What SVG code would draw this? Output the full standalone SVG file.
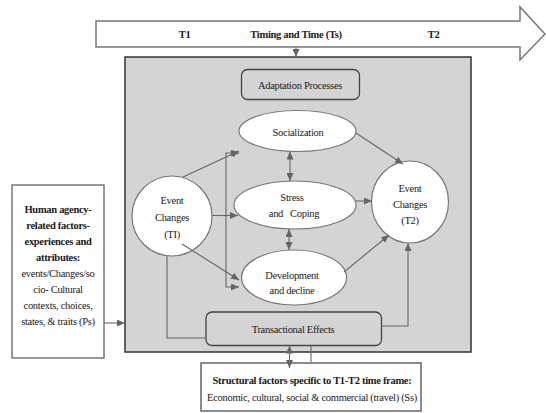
<svg xmlns="http://www.w3.org/2000/svg" width="546" height="413" viewBox="0 0 546 413">
<defs>
<marker id="ah" markerUnits="userSpaceOnUse" markerWidth="8" markerHeight="7" refX="8" refY="3.5" orient="auto-start-reverse">
<path d="M0,0 L8,3.5 L0,7 z" fill="#666"/>
</marker>
</defs>
<style>
text{font-family:"Times New Roman","Liberation Serif",Tinos,serif;font-size:10.5px;fill:#1a1a1a;letter-spacing:-0.3px;text-anchor:middle}
.b{font-weight:bold}
.ell{fill:#fff;stroke:#777;stroke-width:1.2}
.rbox{fill:none;stroke:#444;stroke-width:1.3}
.ln{fill:none;stroke:#666;stroke-width:1.1}
.arr{marker-end:url(#ah)}
.dbl{marker-start:url(#ah);marker-end:url(#ah)}
</style>
<rect width="546" height="413" fill="#fff"/>
<g id="timeline">
<polygon points="96,21 520,21 520,7 545,34 520,60 520,47 96,47" fill="#fff" stroke="#777" stroke-width="1.5"/>
<text class="b" x="184.5" y="38">T1</text>
<text class="b" x="296" y="38">Timing and Time (Ts)</text>
<text class="b" x="433.5" y="38">T2</text>
</g>
<g id="frame">
<rect x="125" y="57" width="346" height="295" fill="#d4d4d4" stroke="#333" stroke-width="1.5"/>
</g>
<g id="adaptation">
<rect class="rbox" x="241.5" y="69.5" width="118" height="30" rx="6"/>
<text x="300" y="88.5">Adaptation Processes</text>
</g>
<g id="socialization">
<ellipse class="ell" cx="297.5" cy="131" rx="58.5" ry="20.5"/>
<text x="298" y="135.5">Socialization</text>
</g>
<g id="stress">
<ellipse class="ell" cx="295" cy="205" rx="61" ry="24"/>
<text x="292" y="201">Stress</text>
<text x="294" y="217" style="white-space:pre">and   Coping</text>
</g>
<g id="development">
<ellipse class="ell" cx="294" cy="277.5" rx="52.5" ry="27.5"/>
<text x="292" y="278.5">Development</text>
<text x="292" y="293.5">and decline</text>
</g>
<g id="event-t1">
<circle class="ell" cx="172" cy="216" r="40"/>
<text x="172" y="204">Event</text>
<text x="172" y="221">Changes</text>
<text x="172" y="238">(TI)</text>
</g>
<g id="event-t2">
<ellipse class="ell" cx="410" cy="202" rx="38.5" ry="41"/>
<text x="410" y="192">Event</text>
<text x="410" y="208">Changes</text>
<text x="410" y="224">(T2)</text>
</g>
<g id="transactional">
<rect class="rbox" x="206" y="312" width="175.5" height="33.5" rx="6"/>
<text x="293" y="332.5">Transactional Effects</text>
</g>
<g id="human-agency">
<rect x="12" y="185" width="92" height="173" fill="#fff" stroke="#555" stroke-width="1.2"/>
<text class="b" x="58" y="212.5">Human agency-</text>
<text class="b" x="58" y="228.5">related factors-</text>
<text class="b" x="58" y="244.5">experiences and</text>
<text class="b" x="58" y="260.5">attributes:</text>
<text x="58" y="276.5">events/Changes/so</text>
<text x="58" y="292.5">cio- Cultural</text>
<text x="58" y="308.5">contexts, choices,</text>
<text x="58" y="324.5">states, &amp; traits (Ps)</text>
</g>
<g id="structural">
<rect x="201" y="363" width="220" height="48" fill="#fff" stroke="#666" stroke-width="1.5"/>
<text class="b" x="312" y="383.5">Structural factors specific to T1-T2 time frame:</text>
<text x="312" y="400.5">Economic, cultural, social &amp; commercial (travel) (Ss)</text>
</g>
<g id="connectors">
<line class="ln arr" x1="296" y1="47" x2="296" y2="57"/>
<line class="ln arr" x1="104" y1="323" x2="125" y2="323"/>
<line class="ln arr" x1="183" y1="177" x2="239" y2="151"/>
<polyline class="ln dbl" points="239,153 226,153 226,287 239,287"/>
<line class="ln arr" x1="212" y1="215.5" x2="238" y2="215.5"/>
<line class="ln arr" x1="182" y1="244" x2="239" y2="280"/>
<line class="ln dbl" x1="290" y1="151.5" x2="290" y2="181"/>
<line class="ln dbl" x1="289" y1="229" x2="289" y2="250"/>
<line class="ln arr" x1="356" y1="133" x2="403" y2="164"/>
<line class="ln arr" x1="356" y1="201" x2="372" y2="201"/>
<line class="ln arr" x1="344" y1="272" x2="389" y2="235"/>
<polyline class="ln arr" points="381.5,326 408,326 408,243"/>
<polyline class="ln" points="167,256 167,338 206,338"/>
<line class="ln dbl" x1="289.5" y1="345.5" x2="289.5" y2="368"/>
<line class="ln" x1="311" y1="346" x2="311" y2="362"/>
</g>
</svg>
